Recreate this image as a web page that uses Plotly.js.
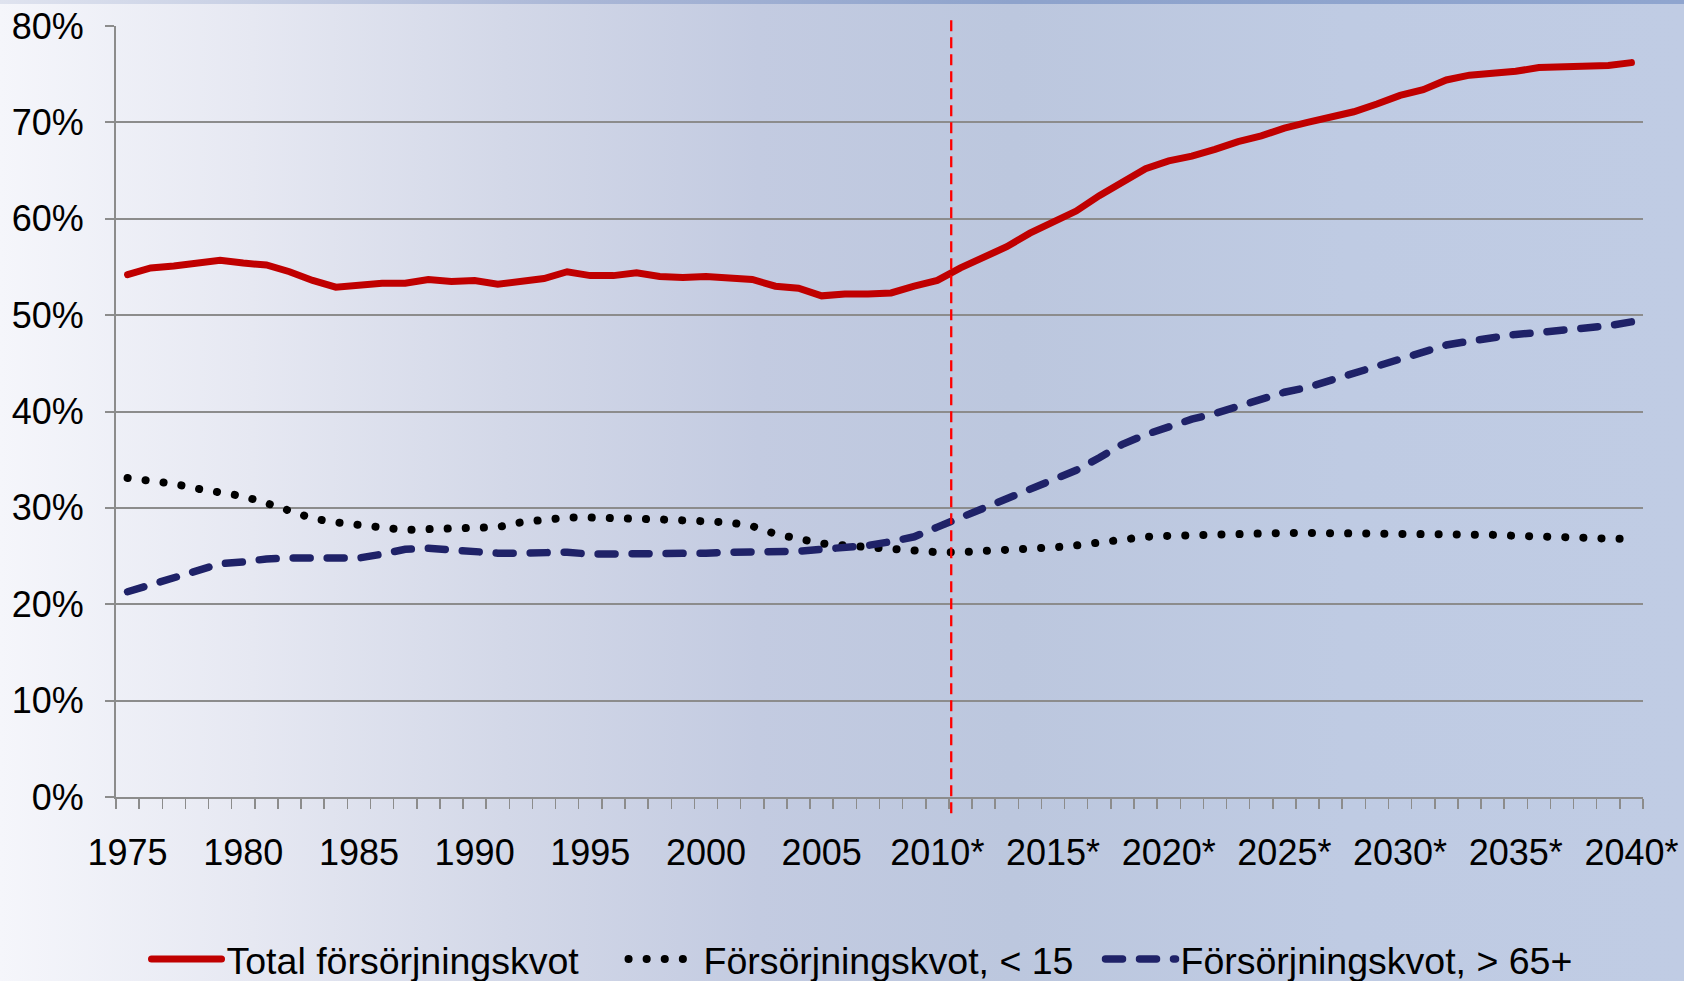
<!DOCTYPE html>
<html>
<head>
<meta charset="utf-8">
<script src="https://cdn.plot.ly/plotly-3.0.1.min.js"></script>
<style>
  html, body { margin: 0; padding: 0; }
  body {
    width: 1684px; height: 981px; overflow: hidden;
    background: linear-gradient(90deg, #f5f6fb 0%, #e6e8f2 15%, #d3d8e8 30%, #c3cbe1 45%, #bcc7de 60%, #bfcbe3 80%, #c0cce4 100%);
    position: relative;
  }
  #topband { position: absolute; left: 0; top: 0; width: 1684px; height: 4px;
    background: linear-gradient(90deg, #dfe3ef 0%, #a9b6d6 35%, #8ea3cc 60%, #8fa5cf 100%); }
  #chart { position: absolute; left: 0; top: 0; width: 1684px; height: 981px; }
  .js-line { stroke-linecap: round; }
</style>
</head>
<body>
<div id="topband"></div>
<div id="chart"></div>
<script>
const years = [];
for (let y = 1975; y <= 2040; y++) years.push(y >= 2010 ? y + '*' : String(y));

const totalRatio = [54.2,54.9,55.1,55.4,55.7,55.4,55.2,54.5,53.6,52.9,
  53.1,53.3,53.3,53.7,53.5,53.6,53.2,53.5,53.8,54.5,
  54.1,54.1,54.4,54.0,53.9,54.0,53.9,53.7,53.0,52.8,
  52.0,52.2,52.2,52.3,53.0,53.6,54.9,56.0,57.1,58.5,
  59.6,60.8,62.4,63.9,65.2,66.0,66.5,67.2,68.0,68.6,
  69.4,70.0,70.5,71.1,71.9,72.8,73.4,74.4,74.9,75.1,
  75.3,75.7,75.8,75.9,75.9,76.2];

const youngRatio = [33.1,32.9,32.5,32.0,31.7,31.2,30.5,29.7,28.9,28.5,
  28.2,27.9,27.7,27.8,27.9,28.0,28.0,28.5,28.8,29.0,
  29.0,29.0,29.0,28.8,28.7,28.7,28.5,28.1,27.3,26.8,
  26.3,26.1,25.9,25.7,25.6,25.4,25.4,25.5,25.5,25.7,
  25.9,26.1,26.4,26.8,27.0,27.1,27.2,27.3,27.3,27.4,
  27.4,27.4,27.4,27.4,27.4,27.4,27.4,27.3,27.3,27.2,
  27.1,27.1,27.0,26.9,26.8,26.8];

const oldRatio = [21.3,22.0,22.8,23.5,24.2,24.4,24.7,24.8,24.8,24.7,
  24.8,25.2,25.7,25.8,25.6,25.4,25.3,25.3,25.3,25.4,
  25.2,25.2,25.3,25.2,25.2,25.3,25.4,25.4,25.4,25.5,
  25.7,25.9,26.1,26.5,27.0,28.0,29.0,30.1,31.1,32.1,
  32.9,33.9,35.2,36.6,37.6,38.5,39.2,39.8,40.6,41.3,
  42.0,42.5,43.2,43.9,44.6,45.4,46.1,46.9,47.3,47.7,
  48.0,48.2,48.4,48.7,48.9,49.3];

const seriesNames = ['Total försörjningskvot', 'Försörjningskvot, < 15', 'Försörjningskvot, > 65+'];
const yTickVals = [0, 0.1, 0.2, 0.3, 0.4, 0.5, 0.6, 0.7, 0.8];
const xTickText = years.map((y, i) => (i % 5 === 0 ? y : ''));

const pct = a => a.map(v => v / 100);

const traces = [
  { x: years, y: pct(totalRatio), name: seriesNames[0], type: 'scatter', mode: 'lines',
    line: { color: '#c00000', width: 7 } },
  { x: years, y: pct(youngRatio), name: seriesNames[1], type: 'scatter', mode: 'lines',
    line: { color: '#000000', width: 8, dash: '0.1px,18px' } },
  { x: years, y: pct(oldRatio), name: seriesNames[2], type: 'scatter', mode: 'lines',
    line: { color: '#1f2268', width: 7.5, dash: '17px,17px' } }
];

const tickFont = { family: 'Liberation Sans, Arial, sans-serif', size: 36, color: '#000000' };
const legendFont = { family: 'Liberation Sans, Arial, sans-serif', size: 37.5, color: '#000000' };

const layout = {
  width: 1684, height: 981,
  paper_bgcolor: 'rgba(0,0,0,0)', plot_bgcolor: 'rgba(0,0,0,0)',
  margin: { l: 116, r: 41, t: 26, b: 184 },
  font: tickFont,
  showlegend: true,
  legend: {
    orientation: 'h', xref: 'container', yref: 'container',
    x: 0.087, xanchor: 'left', y: 0.0224, yanchor: 'middle',
    font: legendFont, itemwidth: 70, entrywidth: 392,
    bgcolor: 'rgba(0,0,0,0)', traceorder: 'normal'
  },
  xaxis: {
    type: 'category', range: [-0.5, 65.5],
    tickmode: 'array', tickvals: years, ticktext: xTickText, tickangle: 0,
    tickson: 'boundaries', ticks: 'outside', ticklen: 10, tickwidth: 1.5, tickcolor: '#8c8c8c',
    showline: true, linecolor: '#8c8c8c', linewidth: 2,
    showgrid: false, zeroline: false, ticklabelstandoff: 23,
    tickfont: tickFont, fixedrange: true
  },
  yaxis: {
    range: [0, 0.8], tickmode: 'array', tickvals: yTickVals, tickformat: '.0%',
    ticks: 'outside', ticklen: 9, tickwidth: 2, tickcolor: '#8c8c8c',
    showline: true, linecolor: '#8c8c8c', linewidth: 2,
    showgrid: true, gridcolor: '#8c8c8c', gridwidth: 2, zeroline: false,
    ticklabelstandoff: 14, tickfont: tickFont, fixedrange: true
  },
  shapes: [{
    type: 'line', xref: 'x', yref: 'paper', x0: 35.6, x1: 35.6, y0: -0.021, y1: 1.014,
    line: { color: '#ff0000', width: 2.3, dash: '11px,6px' }, layer: 'above'
  }]
};

Plotly.newPlot('chart', traces, layout, { staticPlot: true, displayModeBar: false });
</script>
</body>
</html>
